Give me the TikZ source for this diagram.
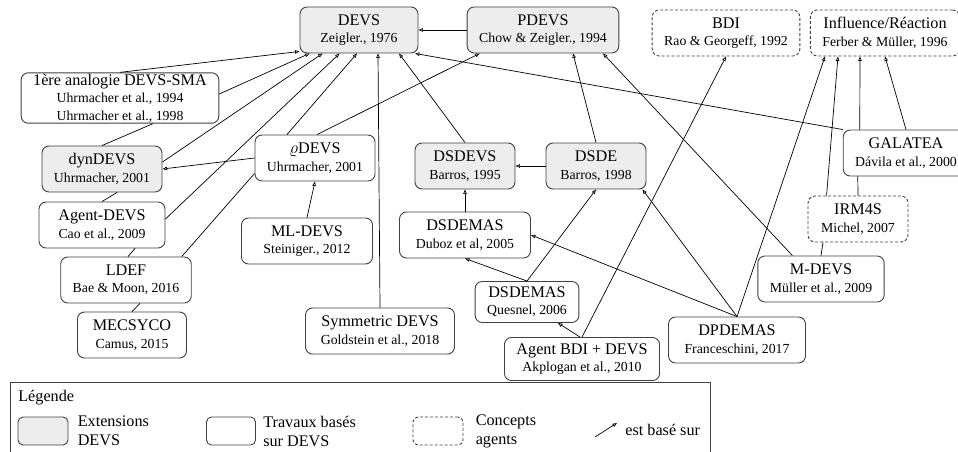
\documentclass[tikz,border=0pt]{standalone}
\usepackage{fontspec}
\setmainfont{Liberation Serif}
\usepackage{tikz}
\usetikzlibrary{arrows.meta}
\usetikzlibrary{positioning}
\tikzstyle{ext}=[draw=black!75,fill=black!7,rounded corners=7pt,align=center,inner xsep=12pt,inner ysep=3pt,minimum width=100pt,minimum height=46pt,line width=0.9pt,font=\fontsize{16.2}{17.5}\selectfont]
\tikzstyle{work}=[ext,fill=white]
\tikzstyle{concept}=[work,dash pattern=on 3pt off 2pt]
\tikzstyle{basedon}=[-{Triangle[open,length=4.5pt,width=3.5pt]}]
\newcommand{\cit}[1]{{\fontsize{13.8}{16}\selectfont #1}}

\begin{document}
\begin{tikzpicture}[x=1pt,y=-1pt,line width=0.7pt]
\useasboundingbox (0,0) rectangle (958,452);
% extensions DEVS
\node [ext,minimum width=118pt] (devs) at (359,30) {DEVS\\\cit{Zeigler., 1976}};
\node [ext] (pdevs) at (543,30) {PDEVS\\\cit{Chow \& Zeigler., 1994}};
\node [ext] (dyndevs) at (102,169) {dynDEVS\\\cit{Uhrmacher, 2001}};
\node [ext] (dsdevs) at (465,166) {DSDEVS\\\cit{Barros, 1995}};
\node [ext] (dsde) at (596,166) {DSDE\\\cit{Barros, 1998}};
% concepts agents
\node [concept] (bdi) at (726,33) {BDI\\\cit{Rao \& Georgeff, 1992}};
\node [concept] (infl) at (885,33) {Influence/Réaction\\\cit{Ferber \& Müller, 1996}};
\node [concept] (irm4s) at (858,219) {IRM4S\\\cit{Michel, 2007}};
% travaux bases sur DEVS
\node [work,inner ysep=1pt] (sma) at (120,98) {1ère analogie DEVS-SMA\\\cit{Uhrmacher et al., 1994}\\\cit{Uhrmacher et al., 1998}};
\node [work] (rhodevs) at (315,158) {$\varrho$DEVS\\\cit{Uhrmacher, 2001}};
\node [work] (galatea) at (906,153) {GALATEA\\\cit{Dávila et al., 2000}};
\node [work,minimum width=126pt] (agentdevs) at (102,225) {Agent-DEVS\\\cit{Cao et al., 2009}};
\node [work,minimum width=131pt] (mldevs) at (307,241) {ML-DEVS\\\cit{Steiniger., 2012}};
\node [work,minimum width=131pt] (duboz) at (465,235) {DSDEMAS\\\cit{Duboz et al, 2005}};
\node [work] (ldef) at (126,280) {LDEF\\\cit{Bae \& Moon, 2016}};
\node [work,minimum width=109pt] (mecsyco) at (132,335) {MECSYCO\\\cit{Camus, 2015}};
\node [work,minimum width=149pt] (symdevs) at (380,331) {Symmetric DEVS\\\cit{Goldstein et al., 2018}};
\node [work,minimum height=41pt] (quesnel) at (527,302) {DSDEMAS\\\cit{Quesnel, 2006}};
\node [work,minimum height=43pt] (agentbdi) at (582,359) {Agent BDI + DEVS\\\cit{Akplogan et al., 2010}};
\node [work] (mdevs) at (821,279) {M-DEVS\\\cit{Müller et al., 2009}};
\node [work,minimum width=137pt] (dpdemas) at (737,340) {DPDEMAS\\\cit{Franceschini, 2017}};

% est base sur
\draw[basedon] (pdevs) -- (devs);
\draw[basedon] (sma.north) -- ([yshift=2pt]devs.south west);
\draw[basedon] ([yshift=4pt]sma.east) -- ([xshift=10pt]devs.south west);
\draw[basedon] ([yshift=7pt]dyndevs.east) -- ([xshift=23pt]devs.south west);
\draw[basedon] ([yshift=6pt]agentdevs.east) -- ([xshift=40pt]devs.south west);
\draw[basedon] ([xshift=-28pt]rhodevs.north) -- ([xshift=-2pt]devs.south);
\draw[basedon] (symdevs.north) -- ([xshift=19pt]devs.south);
\draw[basedon] (dsdevs.north) -- ([xshift=40pt]devs.south);
\draw[basedon] (galatea.north west) -- ([xshift=56pt]devs.south);
\draw[basedon] ([xshift=2pt]rhodevs.north) -- ([xshift=13pt]pdevs.south west);
\draw[basedon] (rhodevs.west) -- (dyndevs.east);
\draw[basedon] (mldevs.north) -- (rhodevs.south);
\draw[basedon] (dsde) -- (dsdevs);
\draw[basedon] (dsde.north) -- ([xshift=30pt]pdevs.south);
\draw[basedon] ([xshift=35pt]mdevs.north west) -- ([xshift=60pt]pdevs.south);
\draw[basedon] (agentbdi.north) -- (bdi.south);
\draw[basedon] ([xshift=-2pt]agentbdi.north) -- ([xshift=31pt]quesnel.south);
\draw[basedon] (quesnel.north) -- (dsde.south);
\draw[basedon] (quesnel.north) -- (duboz.south);
\draw[basedon] (duboz.north) -- (dsdevs.south);
\draw[basedon] (dpdemas.north) -- (duboz.east);
\draw[basedon] (dpdemas.north) -- ([xshift=-4pt]dsde.south east);
\draw[basedon] (dpdemas.north) -- ([xshift=15pt]infl.south west);
\draw[basedon] ([xshift=19pt]irm4s.north west) -- ([xshift=28pt]infl.south west);
\draw[basedon] ([xshift=17pt]galatea.north west) -- ([xshift=50pt]infl.south west);
\draw[basedon] (galatea.north) -- ([xshift=75pt]infl.south west);
% liens sans pointe
\draw (ldef.north east) ++(-10pt,0) -- ([yshift=8pt]rhodevs.south west);
\draw (irm4s.north) -- ([xshift=15pt]galatea.south west);
\draw (mdevs.north) -- ([xshift=-35pt]irm4s.south);
\draw ([xshift=33pt]sma.south) -- (dyndevs.north);
\draw ([xshift=15pt]dyndevs.south) -- (agentdevs.north);
\draw ([xshift=33pt]agentdevs.south) -- ([xshift=2pt]ldef.north);
\draw ([xshift=14pt]ldef.south) -- (mecsyco.north);

% legende
\draw[draw=black!75,line width=0.9pt] (10,382) rectangle (710,475);
\tikzstyle{legtext}=[align=left,inner sep=0pt,font=\fontsize{16.2}{19}\selectfont]
\node [legtext,anchor=west] (leg) at (18,398) {Légende};
\node [ext,minimum width=50pt,minimum height=28pt,rounded corners=5pt] (lext) at (43,431) {};
\node [legtext,right=9pt of lext] (lexttxt) {Extensions\\DEVS};
\node [work,minimum width=49pt,minimum height=28pt,rounded corners=5pt] (lwork) at (231,431) {};
\node [legtext,right=7pt of lwork] (lworktxt) {Travaux basés\\sur DEVS};
\node [concept,minimum width=50pt,minimum height=28pt,rounded corners=5pt] (lconc) at (438,431) {};
\node [legtext,right=12pt of lconc] (lconctxt) {Concepts\\agents};
\coordinate (la0) at (595,437);
\coordinate (la1) at (617,423);
\draw[basedon] (la0) -- (la1);
\node [legtext,anchor=west] (larrtxt) at (625,430) {est basé sur};
\end{tikzpicture}
\end{document}
